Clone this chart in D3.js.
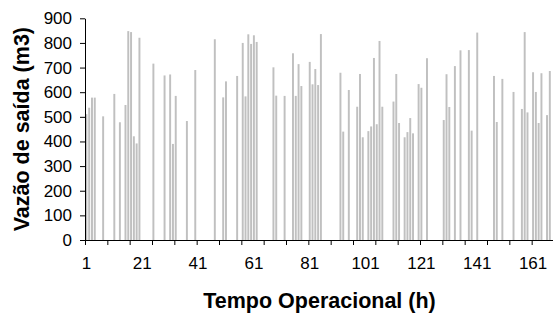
<!DOCTYPE html>
<html>
<head>
<meta charset="utf-8">
<script src="https://cdn.jsdelivr.net/npm/d3@7"></script>
<style>
  html, body { margin: 0; padding: 0; background: #fff; }
  svg { display: block; }
  text { font-family: "Liberation Sans", Arial, sans-serif; fill: #000; }
</style>
</head>
<body>
<svg id="chart" width="553" height="318"></svg>
<script>
// Hours 1..168 (Tempo Operacional)
const hours = d3.range(1, 169);
// Non-zero outflow readings (m3) keyed by hour; every other hour is 0
const activeHours = [1,2,3,4,7,11,13,15,16,17,18,19,20,25,29,31,32,33,37,40,
  47,50,51,55,57,58,59,60,61,62,68,69,72,75,76,77,78,81,82,83,84,85,
  92,93,95,98,99,100,102,103,104,105,106,107,111,112,113,115,116,117,118,120,
  121,123,129,130,131,133,135,138,139,141,147,148,150,154,157,158,159,161,162,163,164,166,167];
const activeValues = [511,537,578,578,502,593,478,548,848,844,421,392,821,716,668,672,390,585,483,690,
  815,579,644,666,800,583,835,796,831,804,701,586,585,758,585,714,625,723,632,694,629,836,
  679,440,609,541,674,417,442,461,739,470,808,541,562,674,475,417,438,495,433,633,
  618,738,487,673,540,706,770,771,444,842,666,479,654,601,532,844,518,681,601,475,677,507,686];
const yTicks = [0,100,200,300,400,500,600,700,800,900];
const xLabels = [1,21,41,61,81,101,121,141,161];
const xTitle = "Tempo Operacional (h)";
const yTitle = "Vazão de saída (m3)";

const valueByHour = new Map(activeHours.map((h, i) => [h, activeValues[i]]));
const data = hours.map(h => ({ hour: h, value: valueByHour.get(h) || 0 }));

const svg = d3.select("#chart");
const mLeft = 85, mRight = 554, mTop = 18.3, mBottom = 240;

const x = d3.scaleBand().domain(hours).range([mLeft, mRight]).paddingInner(0.3).paddingOuter(0.15);
const xEdge = d3.scaleLinear().domain([0, 168]).range([mLeft, mRight]);
const y = d3.scaleLinear().domain([0, 900]).range([mBottom, mTop]);

// bars
svg.append("g").selectAll("rect").data(data.filter(d => d.value > 0)).join("rect")
  .attr("x", d => x(d.hour))
  .attr("width", x.bandwidth())
  .attr("y", d => y(d.value))
  .attr("height", d => y(0) - y(d.value))
  .attr("fill", "#c0c0c0");

// y axis
const yAxis = svg.append("g").attr("transform", `translate(${mLeft},0)`)
  .call(d3.axisLeft(y).tickValues(yTicks).tickSize(5).tickPadding(8).tickSizeOuter(0));
yAxis.selectAll("text").style("font-size", "17px");
yAxis.selectAll("line, path").attr("stroke", "#000");

// x axis tick marks (every 8 hours, at category boundaries)
const xTickAxis = svg.append("g").attr("transform", `translate(0,${mBottom})`)
  .call(d3.axisBottom(xEdge).tickValues(d3.range(0, 169, 8)).tickSize(5).tickFormat("").tickSizeOuter(0));
xTickAxis.selectAll("line, path").attr("stroke", "#000");

// x axis labels
const xLabAxis = svg.append("g").attr("transform", `translate(0,${mBottom})`)
  .call(d3.axisBottom(x).tickValues(xLabels).tickSize(0).tickPadding(17));
xLabAxis.select("path").remove();
xLabAxis.selectAll("text").style("font-size", "17px");

// titles
svg.append("text")
  .attr("x", (mLeft + mRight) / 2).attr("y", 308)
  .attr("text-anchor", "middle")
  .style("font-size", "21.5px").style("font-weight", "bold")
  .text(xTitle);

svg.append("text")
  .attr("transform", `translate(29,${(mTop + mBottom) / 2}) rotate(-90)`)
  .attr("text-anchor", "middle")
  .style("font-size", "21.5px").style("font-weight", "bold")
  .text(yTitle);
</script>
</body>
</html>
